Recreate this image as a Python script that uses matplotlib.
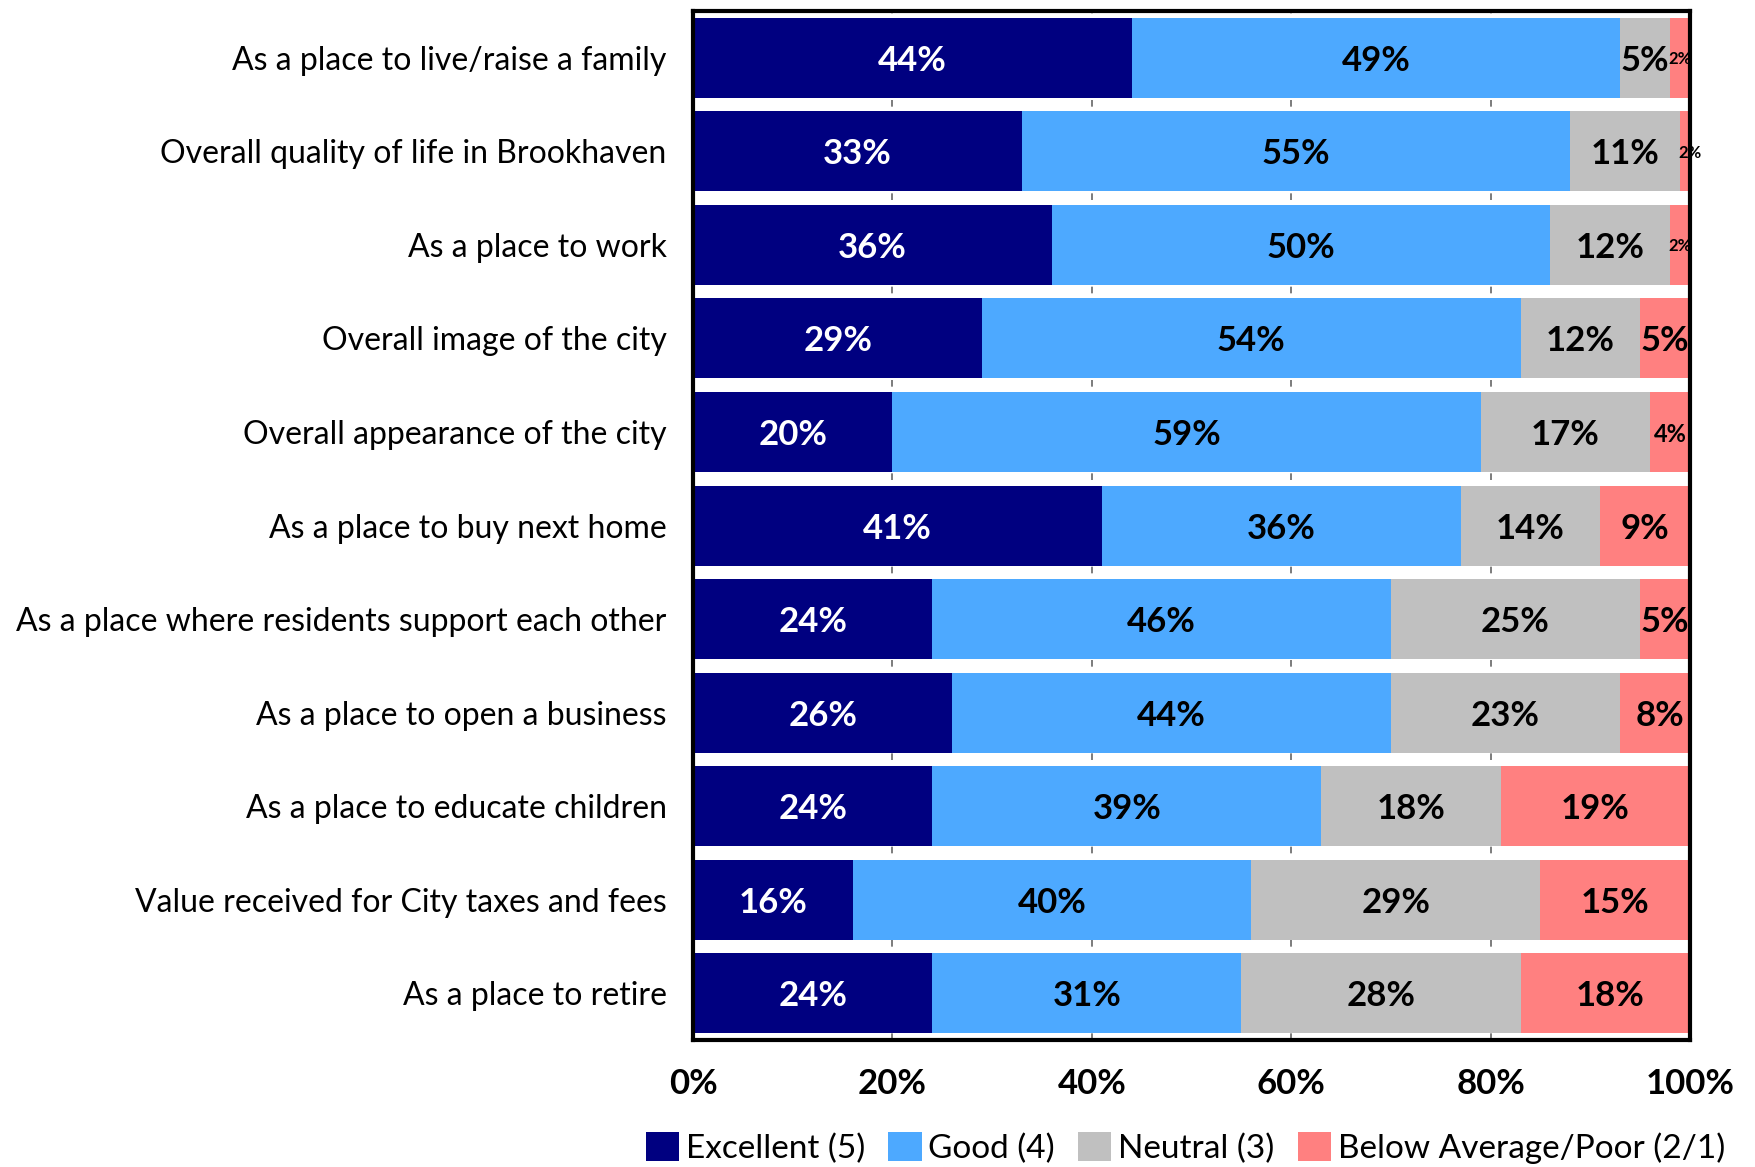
import numpy as np
import matplotlib.pyplot as plt

plt.rcParams['font.family'] = ['Lato', 'DejaVu Sans']

categorias = [
    'As a place to live/raise a family',
    'Overall quality of life in Brookhaven',
    'As a place to work',
    'Overall image of the city',
    'Overall appearance of the city',
    'As a place to buy next home',
    'As a place where residents support each other',
    'As a place to open a business',
    'As a place to educate children',
    'Value received for City taxes and fees',
    'As a place to retire',
]

excelente = [44, 33, 36, 29, 20, 41, 24, 26, 24, 16, 24]
bueno = [49, 55, 50, 54, 59, 36, 46, 44, 39, 40, 31]
neutral = [5, 11, 12, 12, 17, 14, 25, 23, 18, 29, 28]
malo = [2, 2, 2, 5, 4, 9, 5, 8, 19, 15, 18]

series = ['Excellent (5)', 'Good (4)', 'Neutral (3)', 'Below Average/Poor (2/1)']
colores = ['#000080', '#4DA9FF', '#C0C0C0', '#FF8080']
color_texto = ['white', 'black', 'black', 'black']
ticks_x = [0, 20, 40, 60, 80, 100]

fig = plt.figure(figsize=(17.56, 11.67), dpi=100)
ax = fig.add_axes([0.3947, 0.1088, 0.5677, 0.8817])

y = np.arange(len(categorias))
izq = np.zeros(len(categorias))
datos = [excelente, bueno, neutral, malo]

for k, vals in enumerate(datos):
    vals = np.array(vals, dtype=float)
    ax.barh(y, vals, left=izq, height=0.855, color=colores[k],
            label=series[k], zorder=2)
    for i, v in enumerate(vals):
        cx = izq[i] + v / 2
        # las etiquetas de segmentos muy angostos van más chicas
        if v <= 2:
            fs = 12
        elif v <= 4:
            fs = 17
        else:
            fs = 25
        ax.text(cx, y[i], f'{v:.0f}%', ha='center', va='center_baseline',
                fontsize=fs, fontweight='bold', color=color_texto[k], zorder=3,
                clip_on=False)
    izq = izq + vals

ax.set_xlim(0, 100)
ax.set_ylim(len(categorias) - 0.5, -0.5)
ax.set_yticks(y)
ax.set_yticklabels(categorias, fontsize=23)
ax.set_xticks(ticks_x)
ax.set_xticklabels([f'{t}%' for t in ticks_x], fontsize=25, fontweight='bold')
ax.tick_params(axis='both', length=0)
ax.tick_params(axis='y', pad=19)
ax.tick_params(axis='x', pad=20)

ax.xaxis.grid(True, linestyle=(0, (4, 4)), color='#666666', linewidth=1.2, zorder=0)
ax.set_axisbelow(True)
for s in ax.spines.values():
    s.set_linewidth(3)
    s.set_color('black')

fig.legend(loc='center', bbox_to_anchor=(0.675, 0.0165), ncol=4, frameon=False,
           fontsize=24, handlelength=1.0, handleheight=1.0, handletextpad=0.2,
           columnspacing=0.7, borderaxespad=0)

fig.savefig('out.png', dpi=100)
